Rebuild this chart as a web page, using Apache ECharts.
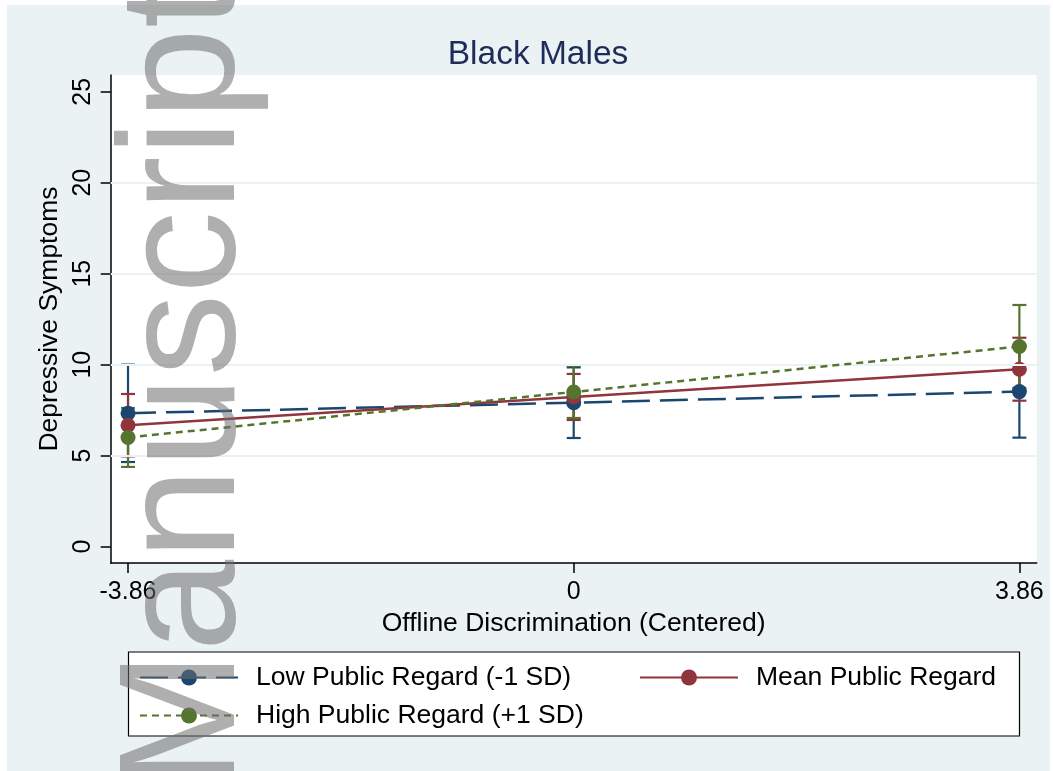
<!DOCTYPE html>
<html>
<head>
<meta charset="utf-8">
<script src="https://cdn.jsdelivr.net/npm/echarts@6/dist/echarts.min.js"></script>
<style>
  html, body { margin: 0; padding: 0; background: #fff; }
  #chart { width: 1053px; height: 771px; }
</style>
</head>
<body>
<div id="chart"></div>
<script>
// x positions (offline discrimination, centered)
const xVals = [-3.86, 0, 3.86];
const xTickLabels = ['-3.86', '0', '3.86'];
const yTicks = [0, 5, 10, 15, 20, 25];
const gridVals = [5, 10, 15, 20];

const seriesNames = ['Low Public Regard (-1 SD)', 'Mean Public Regard', 'High Public Regard (+1 SD)'];

// predicted depressive symptoms and CI bounds
const lowMean = [7.33, 7.91, 8.52];
const lowLo = [4.65, 5.97, 5.99];
const lowHi = [10.0, 9.85, 11.05];

const midMean = [6.67, 8.22, 9.75];
const midLo = [4.96, 6.96, 8.02];
const midHi = [8.39, 9.49, 11.48];

const highMean = [6.0, 8.5, 11.0];
const highLo = [4.38, 7.07, 8.72];
const highHi = [7.62, 9.93, 13.28];

const colors = ['#1a476f', '#90353b', '#55752f'];
const dashes = [[28, 10], 'solid', [7, 5]];
const FONT = "'Liberation Sans', Arial, Helvetica, sans-serif";

const chart = echarts.init(document.getElementById('chart'), null, { renderer: 'canvas' });

function capSeries(name, color, lo, hi) {
  return {
    name: name,
    type: 'custom',
    silent: true,
    z: 2,
    data: xVals.map((x, i) => [x, lo[i], hi[i]]),
    renderItem: function (params, api) {
      const top = api.coord([api.value(0), api.value(2)]);
      const bot = api.coord([api.value(0), api.value(1)]);
      const w = 7;
      const st = { stroke: color, lineWidth: 2.2 };
      return {
        type: 'group',
        children: [
          { type: 'line', shape: { x1: top[0], y1: top[1], x2: bot[0], y2: bot[1] }, style: st },
          { type: 'line', shape: { x1: top[0] - w, y1: top[1], x2: top[0] + w, y2: top[1] }, style: st },
          { type: 'line', shape: { x1: bot[0] - w, y1: bot[1], x2: bot[0] + w, y2: bot[1] }, style: st }
        ]
      };
    }
  };
}

function lineSeries(idx, vals) {
  return {
    name: seriesNames[idx],
    type: 'line',
    z: 3 + idx,
    symbol: 'circle',
    symbolSize: 15,
    data: xVals.map((x, i) => [x, vals[i]]),
    itemStyle: { color: colors[idx] },
    lineStyle: { color: colors[idx], width: 2.5, type: dashes[idx] },
    emphasis: { disabled: true },
    animation: false
  };
}

function legendAt(idx, left, top) {
  return {
    data: [seriesNames[idx]],
    left: left,
    top: top,
    padding: 0,
    itemWidth: 98,
    itemHeight: 20,
    lineStyle: { width: 2 },
    textStyle: { fontFamily: FONT, fontSize: 26.5, color: '#000', padding: [0, 0, 0, 13] },
    selectedMode: false
  };
}

const series = [
  capSeries('ci-low', colors[0], lowLo, lowHi),
  capSeries('ci-mid', colors[1], midLo, midHi),
  capSeries('ci-high', colors[2], highLo, highHi),
  lineSeries(0, lowMean),
  lineSeries(1, midMean),
  lineSeries(2, highMean)
];
// gridlines as markLines on the first line series
series[3].markLine = {
  silent: true,
  symbol: ['none', 'none'],
  label: { show: false },
  lineStyle: { color: '#eaf2f3', width: 2, type: 'solid' },
  data: gridVals.map(v => ({ yAxis: v })),
  animation: false
};

const opt = {
  animation: false,
  textStyle: { fontFamily: FONT },
  title: {
    text: 'Black Males',
    left: 533,
    textAlign: 'center',
    top: 33,
    textStyle: { fontFamily: FONT, fontSize: 33.5, fontWeight: 'normal', color: '#1e2c5a' }
  },
  graphic: [
    { type: 'rect', z: -10, silent: true, shape: { x: 7, y: 5, width: 1043, height: 766 }, style: { fill: '#eaf2f3' } },
    { type: 'rect', z: 0, silent: true, shape: { x: 128.5, y: 652, width: 891, height: 84 }, style: { fill: '#fff', stroke: '#000', lineWidth: 1.2 } },
    {
      type: 'text', z: 100, silent: true,
      x: 188, y: 789, rotation: Math.PI / 2,
      style: {
        text: 'Manuscript', fontFamily: FONT, fontSize: 165,
        fill: 'rgba(110,110,110,0.55)', textAlign: 'left', textVerticalAlign: 'middle'
      }
    }
  ],
  legend: [
    legendAt(0, 139, 664),
    legendAt(1, 639, 664),
    legendAt(2, 139, 702)
  ],
  grid: {
    left: 110.7, right: 16.3, top: 75, bottom: 208,
    show: true, backgroundColor: '#fff', borderWidth: 0
  },
  xAxis: {
    type: 'value',
    min: -4.01, max: 4.01,
    name: 'Offline Discrimination (Centered)',
    nameLocation: 'middle',
    nameGap: 43,
    nameTextStyle: { fontFamily: FONT, fontSize: 26.5, color: '#000' },
    axisLine: { show: true, onZero: false, lineStyle: { color: '#000', width: 1.5 } },
    axisTick: { show: true, length: 10, customValues: xVals, lineStyle: { color: '#000', width: 1.5 } },
    axisLabel: {
      customValues: xVals, margin: 17, fontFamily: FONT, fontSize: 25, color: '#000',
      formatter: v => xTickLabels[xVals.indexOf(v)]
    },
    splitLine: { show: false }
  },
  yAxis: {
    type: 'value',
    min: -0.9, max: 25.92,
    name: 'Depressive Symptoms',
    nameLocation: 'middle',
    nameGap: 32,
    nameTextStyle: { fontFamily: FONT, fontSize: 26.5, color: '#000' },
    axisLine: { show: true, onZero: false, lineStyle: { color: '#000', width: 1.5 } },
    axisTick: { show: true, length: 10, customValues: yTicks, lineStyle: { color: '#000', width: 1.5 } },
    axisLabel: { customValues: yTicks, rotate: 90, margin: 15, fontFamily: FONT, fontSize: 25, color: '#000' },
    splitLine: { show: false }
  },
  series: series
};

chart.setOption(opt);
</script>
</body>
</html>
